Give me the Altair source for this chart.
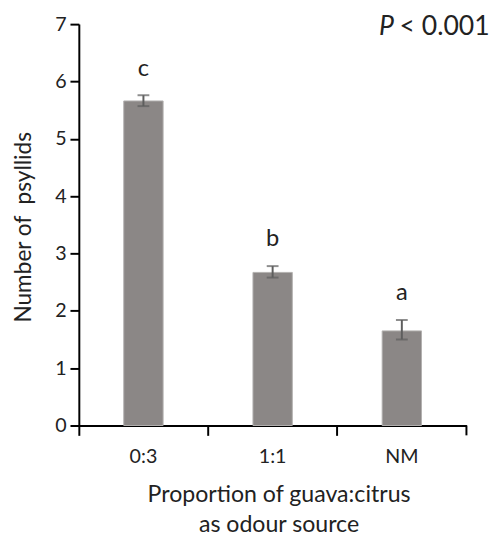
import altair as alt
import pandas as pd

categories = ["0:3", "1:1", "NM"]
means = [5.66, 2.67, 1.65]
err_low = [5.57, 2.58, 1.50]
err_high = [5.76, 2.78, 1.84]
letters = ["c", "b", "a"]

df = pd.DataFrame({"cat": categories, "mean": means, "low": err_low,
                   "high": err_high, "letter": letters})

W, H = 394, 408
FONT = "Lato"
BAR = "#8b8786"
ERR = "#5e5e5e"
TXT = "#222222"

xenc = alt.X("cat:N", sort=categories,
             scale=alt.Scale(paddingInner=0, paddingOuter=0),
             axis=alt.Axis(title=["Proportion of guava:citrus", "as odour source"],
                           bandPosition=0, labelAngle=0,
                           tickSize=10, labelPadding=12, labelFontSize=20,
                           labelColor=TXT, titleColor=TXT,
                           titleFontSize=23.5, titleFontWeight="normal",
                           titleX=203, titleY=77, titleBaseline="alphabetic",
                           titleLineHeight=31, titleAlign="center"))

yscale = alt.Scale(domain=[0, 7], nice=False)

base = alt.Chart(df).encode(x=xenc)

bars = base.mark_bar(size=40, color=BAR, stroke="#b3b0af", strokeWidth=1).encode(
    y=alt.Y("mean:Q", scale=yscale,
            axis=alt.Axis(values=list(range(8)), format="d", tickSize=9, labelPadding=4,
                          labelFontSize=20, labelColor=TXT, grid=False,
                          title="Number of \u00a0psyllids", titleFontSize=23,
                          titleFontWeight="normal", titleColor=TXT,
                          titleX=-56, titleY=H / 2 + 2, titleBaseline="middle",
                          titleAlign="center", titleAngle=-90))
)
rule = base.mark_rule(color=ERR, strokeWidth=2).encode(y=alt.Y("low:Q", scale=yscale), y2="high:Q")
cap_lo = base.mark_tick(color=ERR, size=12, thickness=2).encode(y=alt.Y("low:Q", scale=yscale))
cap_hi = base.mark_tick(color=ERR, size=12, thickness=2).encode(y=alt.Y("high:Q", scale=yscale))
lett = base.mark_text(dy=-27, fontSize=24, baseline="middle", font=FONT, color=TXT).encode(
    y=alt.Y("high:Q", scale=yscale), text="letter:N")

one = alt.Data(values=[{"a": 1}])
end_tick = alt.Chart(one).mark_rule(color="black", strokeWidth=2).encode(
    x=alt.value(W), y=alt.value(H), y2=alt.value(H + 10))
p_txt = alt.Chart(one).mark_text(font=FONT, fontSize=27, fontStyle="italic", align="left",
                                 baseline="alphabetic", color=TXT).encode(
    x=alt.value(305), y=alt.value(11), text=alt.value("P"))
p_val = alt.Chart(one).mark_text(font=FONT, fontSize=27, align="left",
                                 baseline="alphabetic", color=TXT).encode(
    x=alt.value(326), y=alt.value(11), text=alt.value("< 0.001"))

chart = alt.layer(bars, rule, cap_lo, cap_hi, lett, end_tick, p_txt, p_val).properties(
    width=W, height=H,
    autosize=alt.AutoSizeParams(type="none"),
    padding={"left": 72, "top": 12, "right": 27, "bottom": 113},
).configure_view(stroke=None).configure_axis(
    domainColor="black", domainWidth=2, tickColor="black", tickWidth=2,
    labelFont=FONT, titleFont=FONT
).configure_text(font=FONT)

chart.save("out.html", embed_options={"renderer": "svg", "actions": False})
